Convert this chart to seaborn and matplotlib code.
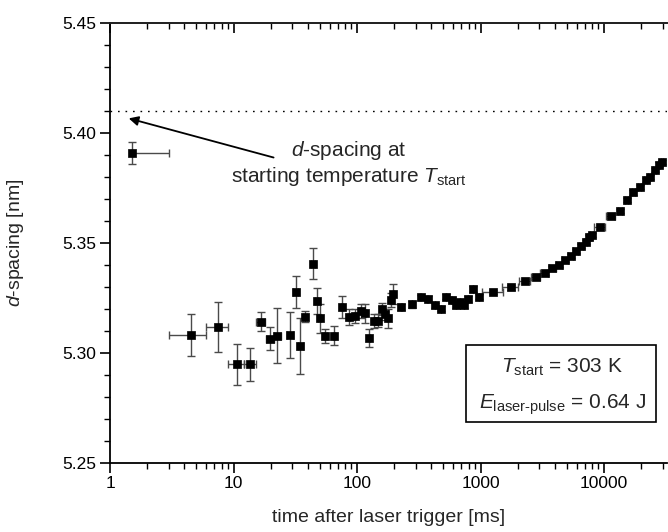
import numpy as np
import pandas as pd
import matplotlib
matplotlib.use('Agg')
import matplotlib.pyplot as plt
import seaborn as sns
from matplotlib.patches import Rectangle
from matplotlib.ticker import MultipleLocator, LogLocator, NullFormatter, FixedLocator, FixedFormatter

sns.set_theme(style='ticks')
plt.rcParams['font.family'] = ['Liberation Sans', 'DejaVu Sans']
plt.rcParams['mathtext.fontset'] = 'custom'
plt.rcParams['mathtext.rm'] = 'Liberation Sans'
plt.rcParams['mathtext.it'] = 'Liberation Sans:italic'
plt.rcParams['mathtext.bf'] = 'Liberation Sans:bold'

# time after trigger [ms], d-spacing [nm], errors
time_ms = [1.5, 4.5, 7.5, 10.6, 13.6, 16.6, 19.7, 22.6, 28.8, 31.8,
           34.7, 37.8, 43.9, 47.0, 50.0, 55.3, 65.3, 75.4, 85.9, 96.0,
           106.7, 117.0, 126.0, 137.0, 146.6, 158.0, 168.0, 176.6, 187.0, 196.0,
           228.0, 278.0, 327.0, 372.0, 430.0, 481.0, 527.0, 582.0, 636.0, 685.0,
           733.0, 789.0, 866.0, 969.0, 1268.0, 1750.0, 2285.0, 2788.0, 3298.0, 3808.0,
           4309.0, 4815.0, 5355.0, 5878.0, 6490.0, 7085.0, 7530.0, 7925.0, 9200.0, 11290.0,
           13350.0, 15200.0, 17220.0, 19370.0, 21660.0, 23360.0, 25620.0, 27770.0, 29600.0]
d_spacing = [5.3908, 5.3080, 5.3116, 5.2946, 5.2946, 5.3140, 5.3063, 5.3076, 5.3080, 5.3275,
             5.3030, 5.3163, 5.3404, 5.3234, 5.3155, 5.3076, 5.3076, 5.3205, 5.3160, 5.3167,
             5.3189, 5.3178, 5.3065, 5.3145, 5.3145, 5.3200, 5.3174, 5.3155, 5.3239, 5.3267,
             5.3208, 5.3219, 5.3252, 5.3245, 5.3215, 5.3200, 5.3254, 5.3240, 5.3216, 5.3228,
             5.3216, 5.3243, 5.3289, 5.3254, 5.3275, 5.3296, 5.3326, 5.3345, 5.3363, 5.3383,
             5.3398, 5.3420, 5.3439, 5.3461, 5.3485, 5.3504, 5.3524, 5.3534, 5.3572, 5.3622,
             5.3645, 5.3693, 5.3728, 5.3754, 5.3784, 5.3799, 5.3830, 5.3855, 5.3867]
d_err = [0.0051, 0.0094, 0.0115, 0.0092, 0.0076, 0.0044, 0.0052, 0.0125, 0.0106, 0.0074,
         0.0126, 0.0024, 0.0070, 0.0060, 0.0064, 0.0032, 0.0043, 0.0050, 0.0036, 0.0032,
         0.0032, 0.0045, 0.0040, 0.0032, 0.0030, 0.0027, 0.0025, 0.0041, 0.0032, 0.0045,
         0.0015, 0.0015, 0.0012, 0.0012, 0.0012, 0.0012, 0.0012, 0.0012, 0.0012, 0.0012,
         0.0012, 0.0012, 0.0012, 0.0012, 0.0010, 0.0010, 0.0010, 0.0010, 0.0010, 0.0010,
         0.0010, 0.0010, 0.0010, 0.0010, 0.0010, 0.0010, 0.0010, 0.0010, 0.0010, 0.0010,
         0.0010, 0.0010, 0.0010, 0.0010, 0.0010, 0.0010, 0.0010, 0.0010, 0.0010]
t_err_low = [0.0] + [1.5] * 43 + [250.0, 250.0, 250.0, 250.0, 250.0, 250.0,
                                   250.0, 250.0, 250.0, 250.0, 250.0, 250.0, 250.0, 250.0, 900.0, 1000.0,
                                   500.0, 500.0, 500.0, 500.0, 500.0, 500.0, 500.0, 500.0, 500.0]
t_err_high = [1.5] * 44 + [250.0, 250.0, 250.0, 250.0, 250.0, 250.0,
                           250.0, 250.0, 250.0, 250.0, 250.0, 250.0, 250.0, 250.0, 900.0, 1000.0,
                           500.0, 500.0, 500.0, 500.0, 500.0, 500.0, 500.0, 500.0, 500.0]

d_start = 5.41
y_ticks = [5.25, 5.30, 5.35, 5.40, 5.45]
x_ticks = [1, 10, 100, 1000, 10000]
x_tick_labels = ['1', '10', '100', '1000', '10000']

df = pd.DataFrame({'time': time_ms, 'd': d_spacing})

fig = plt.figure(figsize=(6.68, 5.32), dpi=100)
ax = fig.add_axes([0.1647, 0.1306, 0.834, 0.8267])

ax.errorbar(time_ms, d_spacing, yerr=d_err, xerr=[t_err_low, t_err_high],
            fmt='none', ecolor='#4a4a4a', elinewidth=1.0, capsize=2.8, capthick=1.0, zorder=2)
sns.scatterplot(data=df, x='time', y='d', marker='s', s=30, color='black',
                edgecolor='black', linewidth=0.5, ax=ax, zorder=3, legend=False)

ax.axhline(d_start, color='black', lw=1.0, ls=(0, (1.2, 4.2)), zorder=1)

ax.set_xscale('log')
ax.set_xlim(1, 32400)
ax.set_ylim(5.25, 5.45)

ax.xaxis.set_major_locator(FixedLocator(x_ticks))
ax.xaxis.set_major_formatter(FixedFormatter(x_tick_labels))
ax.xaxis.set_minor_locator(LogLocator(base=10, subs=np.arange(2, 10), numticks=20))
ax.xaxis.set_minor_formatter(NullFormatter())
ax.yaxis.set_major_locator(FixedLocator(y_ticks))
ax.set_yticklabels([f'{v:.2f}' for v in y_ticks])
ax.yaxis.set_minor_locator(MultipleLocator(0.01))

for s in ['left', 'bottom', 'top']:
    ax.spines[s].set_linewidth(1.3)
    ax.spines[s].set_color('black')
ax.spines['right'].set_visible(False)

ax.tick_params(axis='both', which='major', direction='out', length=7, width=1.2,
               labelsize=12.5, colors='black', pad=3)
ax.tick_params(axis='both', which='minor', direction='out', length=4, width=1.0, colors='black')
ax.tick_params(axis='x', top=False)

# top axis: inward ticks, no labels
ax2 = ax.twiny()
ax2.set_xscale('log')
ax2.set_xlim(ax.get_xlim())
ax2.xaxis.set_major_locator(FixedLocator(x_ticks))
ax2.xaxis.set_minor_locator(LogLocator(base=10, subs=np.arange(2, 10), numticks=20))
ax2.xaxis.set_minor_formatter(NullFormatter())
ax2.tick_params(axis='x', which='major', direction='in', length=7, width=1.2, labeltop=False, colors='black')
ax2.tick_params(axis='x', which='minor', direction='in', length=4, width=1.0, colors='black')
for s in ['left', 'bottom', 'right']:
    ax2.spines[s].set_visible(False)
ax2.spines['top'].set_linewidth(1.3)

ax.set_xlabel('time after laser trigger [ms]', fontsize=14)
ax.set_ylabel(r'$d$-spacing [nm]', fontsize=14)
ax.xaxis.set_label_coords(0.5, -0.105)
ax.yaxis.set_label_coords(-0.15, 0.5)

# annotation arrow and text
ax.annotate('', xy=(1.417, 5.4065), xytext=(21.1, 5.3887),
            arrowprops=dict(arrowstyle='-|>', color='black', lw=1.3, mutation_scale=14,
                            shrinkA=0, shrinkB=0))
ax.text(0.429, 0.697, r'$d$-spacing at', transform=ax.transAxes,
        ha='center', va='baseline', fontsize=15)
ax.text(0.429, 0.637, r'starting temperature $T_{\mathrm{start}}$', transform=ax.transAxes,
        ha='center', va='baseline', fontsize=15)

# parameter box
ax.add_patch(Rectangle((0.6386, 0.0928), 0.3414, 0.1742, transform=ax.transAxes,
                       facecolor='white', edgecolor='black', lw=1.2, zorder=4))
ax.text(0.8115, 0.2035, r'$T_{\mathrm{start}}$ = 303 K', transform=ax.transAxes,
        ha='center', va='baseline', fontsize=15, zorder=5)
ax.text(0.8115, 0.1216, r'$E_{\text{laser-pulse}}$ = 0.64 J', transform=ax.transAxes,
        ha='center', va='baseline', fontsize=15, zorder=5)

fig.savefig('out.png', dpi=100)
